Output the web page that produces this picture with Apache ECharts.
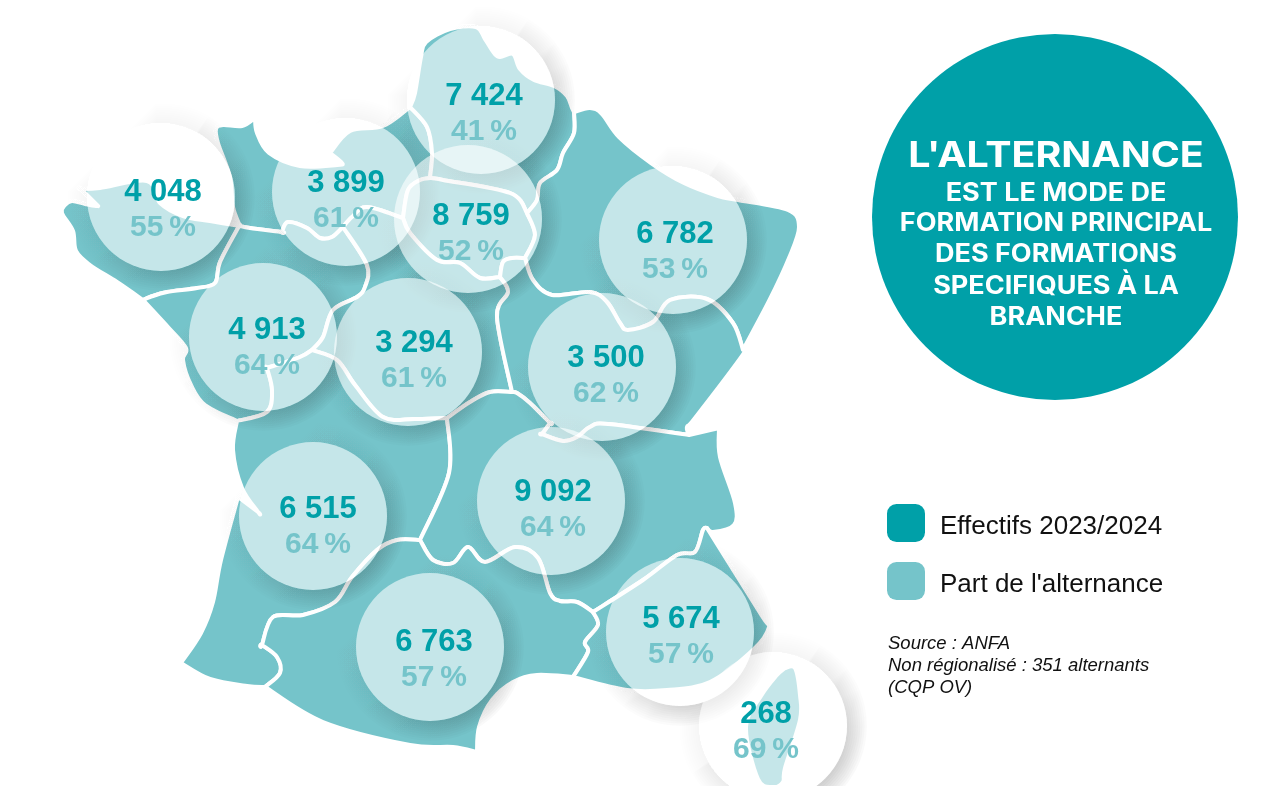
<!DOCTYPE html>
<html lang="fr">
<head>
<meta charset="utf-8">
<title>L'alternance par région</title>
<style>
  html, body { margin: 0; padding: 0; background: #fff; }
  #chart { width: 1261px; height: 786px; }
</style>
</head>
<body>
<div id="chart"></div>
<script src="https://cdn.jsdelivr.net/npm/echarts@6/dist/echarts.min.js"></script>
<script>
// chart values
const regions = ['Bretagne', 'Normandie', 'Hauts-de-France', 'Île-de-France', 'Grand Est', 'Pays de la Loire', 'Centre-Val de Loire', 'Bourgogne-Franche-Comté', 'Nouvelle-Aquitaine', 'Auvergne-Rhône-Alpes', 'Occitanie', 'Provence-Alpes-Côte d\'Azur', 'Corse']
const effectifs = [4048, 3899, 7424, 8759, 6782, 4913, 3294, 3500, 6515, 9092, 6763, 5674, 268]
const parts = [55, 61, 41, 52, 53, 64, 61, 62, 64, 64, 57, 57, 69]
const legendNames = ['Effectifs 2023/2024', "Part de l'alternance"]
const calloutTitle = "L'ALTERNANCE"
const calloutLines = ['EST LE MODE DE', 'FORMATION PRINCIPAL', 'DES FORMATIONS', 'SPECIFIQUES À LA', 'BRANCHE']
const sourceLines = ['Source : ANFA', 'Non régionalisé : 351 alternants', '(CQP OV)']

const DARK = '#00A0A8'
const LIGHT = '#75C4CA'

// map geometry, traced in the map's own coordinates (shared borders so regions stay in sync)
const arcs = {
  coastBret: [[143,300],[117,282],[90,265],[76,251],[73,231],[62,213],[65,205],[72,201],[85,204],[96,206],[97,205],[97,205],[81,189],[81,189],[100,188],[147,181],[160,203],[183,216],[210,221],[240,226]],
  bBretPDL: [[240,226],[238,228],[220,262],[215,283],[197,288],[167,292],[150,297],[143,300]],
  bNormPDL: [[240,226],[250,228],[282,232],[282,232],[288,222],[307,228],[320,238],[332,237],[343,227]],
  coastNorm: [[240,226],[233,207],[230,177],[218,143],[216,129],[223,125],[242,126],[255,118],[255,118],[257,133],[269,153],[300,166],[337,165],[342,163],[330,153],[330,153],[350,131],[383,126],[410,107]],
  bNormHDF: [[410,107],[427,127],[432,153],[430,178]],
  bNormIDF: [[430,178],[420,180],[408,190],[403,218]],
  bNormCVL: [[403,218],[367,207],[352,217],[343,227]],
  bPDLCVL: [[343,227],[367,265],[365,287],[357,297],[333,310],[323,337],[312,350]],
  bPDLNA: [[312,350],[300,357],[267,368],[267,368],[272,390],[267,412],[237,421]],
  coastPDL: [[143,300],[168,327],[186,348],[183,360],[191,385],[205,405],[237,421]],
  bCVLNA: [[312,350],[337,360],[355,385],[383,417],[415,419],[447,418]],
  bCVLARA: [[447,418],[470,402],[490,392],[512,392]],
  bCVLBFC: [[512,392],[497,317],[508,292],[500,277]],
  bIDFCVL: [[403,218],[410,233],[437,260],[460,263],[480,278],[500,277]],
  bIDFBFC: [[500,277],[503,262],[512,258],[525,258]],
  bIDFGE: [[525,258],[535,235],[527,213]],
  bIDFHDF: [[430,178],[443,180],[510,193],[527,213]],
  bHDFGE: [[527,213],[537,200],[540,183],[557,170],[563,153],[574,133],[574,112]],
  coastHDF: [[410,107],[415,93],[421,57],[426,42],[450,29],[476,27],[485,39],[494,53],[500,57],[513,54],[520,69],[534,80],[554,86],[567,96],[572,108],[574,112]],
  coastGE: [[574,112],[590,108],[602,114],[619,137],[651,163],[684,183],[718,196],[738,200],[788,210],[799,227],[789,258],[769,301],[743,350]],
  bGEBFC: [[525,258],[533,280],[552,295],[590,292],[607,302],[620,323],[628,330],[653,322],[670,300],[707,299],[733,323],[743,350]],
  coastBFC: [[743,350],[742,356],[695,418],[687,427],[689,435]],
  bBFCARA: [[512,392],[517,393],[530,403],[550,423],[550,423],[542,434],[542,434],[563,441],[577,437],[590,427],[608,424],[689,435]],
  coastARA: [[689,435],[719,428],[719,428],[720,457],[735,503],[734,525],[713,532],[707,528]],
  bARAPACA: [[707,528],[703,530],[695,552],[677,555],[643,580],[593,612]],
  bARAOcc: [[420,540],[433,560],[453,563],[468,547],[485,562],[515,547],[538,558],[550,593],[560,601],[577,602],[593,612]],
  bNAARA: [[447,418],[449,473],[420,540]],
  bNAOcc: [[420,540],[397,540],[377,550],[352,577],[335,602],[303,615],[273,617],[262,645],[262,645],[277,657],[280,673],[265,687]],
  coastNA: [[265,687],[247,686],[210,679],[181,663],[181,663],[201,633],[213,602],[221,560],[238,497],[238,497],[258,512],[258,512],[242,488],[233,450],[237,421]],
  coastOcc: [[265,687],[323,722],[410,745],[453,747],[477,752],[477,752],[479,727],[492,700],[513,682],[537,675],[573,677]],
  bOccPACA: [[593,612],[598,625],[585,642],[588,652],[573,677]],
  coastPACA: [[707,528],[762,616],[769,627],[754,649],[710,682],[667,690],[627,690],[573,677]],
  corse: [[785,668],[795,668],[800,695],[800,720],[785,768],[783,782],[773,787],[758,779],[746,727],[761,696],[776,676],[785,668]]
}

// each region is a ring of arcs, '-' means walked backwards
const rings = {
  'Bretagne': ['coastBret', 'bBretPDL'],
  'Normandie': ['coastNorm', 'bNormHDF', 'bNormIDF', 'bNormCVL', '-bNormPDL'],
  'Hauts-de-France': ['coastHDF', '-bHDFGE', '-bIDFHDF', '-bNormHDF'],
  'Île-de-France': ['bIDFHDF', '-bIDFGE', '-bIDFBFC', '-bIDFCVL', '-bNormIDF'],
  'Grand Est': ['coastGE', '-bGEBFC', 'bIDFGE', 'bHDFGE'],
  'Pays de la Loire': ['bBretPDL', 'coastPDL', '-bPDLNA', '-bPDLCVL', '-bNormPDL'],
  'Centre-Val de Loire': ['-bNormCVL', 'bIDFCVL', '-bCVLBFC', '-bCVLARA', '-bCVLNA', '-bPDLCVL'],
  'Bourgogne-Franche-Comté': ['bGEBFC', 'coastBFC', '-bBFCARA', 'bCVLBFC', 'bIDFBFC'],
  'Nouvelle-Aquitaine': ['bPDLNA', '-coastNA', '-bNAOcc', '-bNAARA', '-bCVLNA'],
  'Auvergne-Rhône-Alpes': ['bCVLARA', 'bBFCARA', 'coastARA', 'bARAPACA', '-bARAOcc', '-bNAARA'],
  'Occitanie': ['bNAOcc', 'coastOcc', '-bOccPACA', '-bARAOcc'],
  'Provence-Alpes-Côte d\'Azur': ['-bARAPACA', 'coastPACA', '-bOccPACA'],
  'Corse': ['corse']
}

// where each region's bubble sits on the map, same order as regions
const bubbleCentres = [[161,197],[346,192],[481,100],[468,219],[673,240],[263,337],[408,352],[602,367],[313,516],[551,501],[430,647],[680,632],[773,726]]
// text block position inside each bubble: [dx, dy of the middle between the two lines]
const textOffsets = [[2,13],[0,9],[3,14],[3,15],[2,12],[4,11],[6,9],[4,9],[5,11],[2,9],[4,13],[1,5],[-7,6]]

// catmull-rom through the points, so a shared border is the same curve from both sides
function arcToPath(pts) {
  let d = ''
  for (let i = 0; i < pts.length - 1; i++) {
    const p0 = pts[Math.max(i - 1, 0)]
    const p1 = pts[i]
    const p2 = pts[i + 1]
    const p3 = pts[Math.min(i + 2, pts.length - 1)]
    const c1 = [p1[0] + (p2[0] - p0[0]) / 6, p1[1] + (p2[1] - p0[1]) / 6]
    const c2 = [p2[0] - (p3[0] - p1[0]) / 6, p2[1] - (p3[1] - p1[1]) / 6]
    d += `C${c1[0].toFixed(1)} ${c1[1].toFixed(1)} ${c2[0].toFixed(1)} ${c2[1].toFixed(1)} ${p2[0]} ${p2[1]}`
  }
  return d
}

function ringToPath(ring) {
  let d = ''
  ring.forEach((ref, i) => {
    const back = ref[0] === '-'
    const pts = arcs[back ? ref.slice(1) : ref].slice()
    if (back) pts.reverse()
    if (i === 0) d += `M${pts[0][0]} ${pts[0][1]}`
    d += arcToPath(pts)
  })
  return d + 'Z'
}

const svg = '<svg xmlns="http://www.w3.org/2000/svg" width="1261" height="786" viewBox="0 0 1261 786">' +
  regions.map(name => `<path name="${name.replace(/'/g, '&#39;')}" d="${ringToPath(rings[name])}" fill="${LIGHT}" stroke="#fff" stroke-width="4" stroke-linejoin="round"/>`).join('') +
  '</svg>'
echarts.registerMap('france', { svg: svg })

function formatEffectif(v) {
  return String(v).replace(/\B(?=\d{3}$)/, ' ')
}

const BUBBLE_R = 74

// soft shadow outside the bubble only, the bubble itself stays see-through
function renderShadow(params, api) {
  const c = api.coord([api.value(0), api.value(1)])
  const shadowRings = []
  for (let k = 1; k <= 9; k++) {
    shadowRings.push({
      type: 'ring',
      shape: { cx: c[0], cy: c[1], r: BUBBLE_R + k * 2.2, r0: BUBBLE_R },
      style: {
        fill: {
          type: 'linear', x: 0.15, y: 0.15, x2: 0.85, y2: 0.85,
          colorStops: [
            { offset: 0, color: 'rgba(0,0,0,0.001)' },
            { offset: 0.5, color: 'rgba(0,0,0,0.008)' },
            { offset: 1, color: 'rgba(0,0,0,0.022)' }
          ]
        }
      }
    })
  }
  return { type: 'group', children: shadowRings }
}

const chart = echarts.init(document.getElementById('chart'))

const calloutGraphics = [
  { type: 'circle', shape: { cx: 1055, cy: 217, r: 183 }, style: { fill: DARK } },
  { type: 'text', x: 1056, y: 156, scaleX: 1.125, style: { text: calloutTitle, fill: '#fff', font: '700 35px Inter', textAlign: 'center', textVerticalAlign: 'middle' } }
]
const calloutY = [193, 223, 254, 286, 317]
calloutLines.forEach((line, i) => {
  calloutGraphics.push({ type: 'text', x: 1056, y: calloutY[i], scaleX: 1.08, style: { text: line, fill: '#fff', font: '700 25px Inter', textAlign: 'center', textVerticalAlign: 'middle' } })
})

chart.setOption({
  animation: false,
  title: {
    text: sourceLines.join('\n'),
    left: 888,
    top: 633,
    padding: 0,
    textStyle: { fontFamily: 'Liberation Sans', fontStyle: 'italic', fontWeight: 'normal', fontSize: 18.5, lineHeight: 22, color: '#111' }
  },
  legend: {
    left: 887,
    top: 504,
    padding: 0,
    orient: 'vertical',
    itemWidth: 38,
    itemHeight: 38,
    itemGap: 20,
    selectedMode: false,
    icon: 'roundRect',
    formatter: name => `{t|${name}}`,
    textStyle: {
      rich: { t: { fontFamily: 'Liberation Sans', fontSize: 26, color: '#111', padding: [8, 0, 0, 10] } }
    },
    data: [
      { name: legendNames[0], itemStyle: { color: DARK } },
      { name: legendNames[1], itemStyle: { color: LIGHT } }
    ]
  },
  graphic: calloutGraphics,
  geo: {
    map: 'france',
    left: 0,
    top: 0,
    width: 1261,
    height: 786,
    roam: false,
    silent: true,
    label: { show: false },
    itemStyle: { areaColor: LIGHT, borderColor: '#fff', borderWidth: 4 },
    emphasis: { disabled: true }
  },
  series: [
    {
      name: 'ombre',
      type: 'custom',
      coordinateSystem: 'geo',
      silent: true,
      z: 2,
      renderItem: renderShadow,
      data: bubbleCentres
    },
    {
      name: legendNames[0],
      type: 'scatter',
      coordinateSystem: 'geo',
      silent: true,
      z: 3,
      symbolSize: BUBBLE_R * 2,
      itemStyle: { color: 'rgba(255,255,255,0.585)', opacity: 1 },
      label: {
        show: true,
        position: 'inside',
        fontFamily: 'Liberation Sans',
        fontWeight: 'bold',
        fontSize: 31,
        color: DARK,
        formatter: p => formatEffectif(p.value[2])
      },
      data: effectifs.map((v, i) => ({
        name: regions[i],
        value: [bubbleCentres[i][0], bubbleCentres[i][1], v],
        label: { offset: [textOffsets[i][0], textOffsets[i][1] - 18] }
      }))
    },
    {
      name: legendNames[1],
      type: 'scatter',
      coordinateSystem: 'geo',
      silent: true,
      z: 4,
      symbolSize: 1,
      itemStyle: { color: 'rgba(0,0,0,0)', opacity: 1 },
      label: {
        show: true,
        position: 'inside',
        fontFamily: 'Liberation Sans',
        fontWeight: 'bold',
        fontSize: 30,
        color: LIGHT,
        formatter: p => p.value[2] + '\u2009%'
      },
      data: parts.map((v, i) => ({
        name: regions[i],
        value: [bubbleCentres[i][0], bubbleCentres[i][1], v],
        label: { offset: [textOffsets[i][0], textOffsets[i][1] + 18] }
      }))
    }
  ]
})
</script>
</body>
</html>
